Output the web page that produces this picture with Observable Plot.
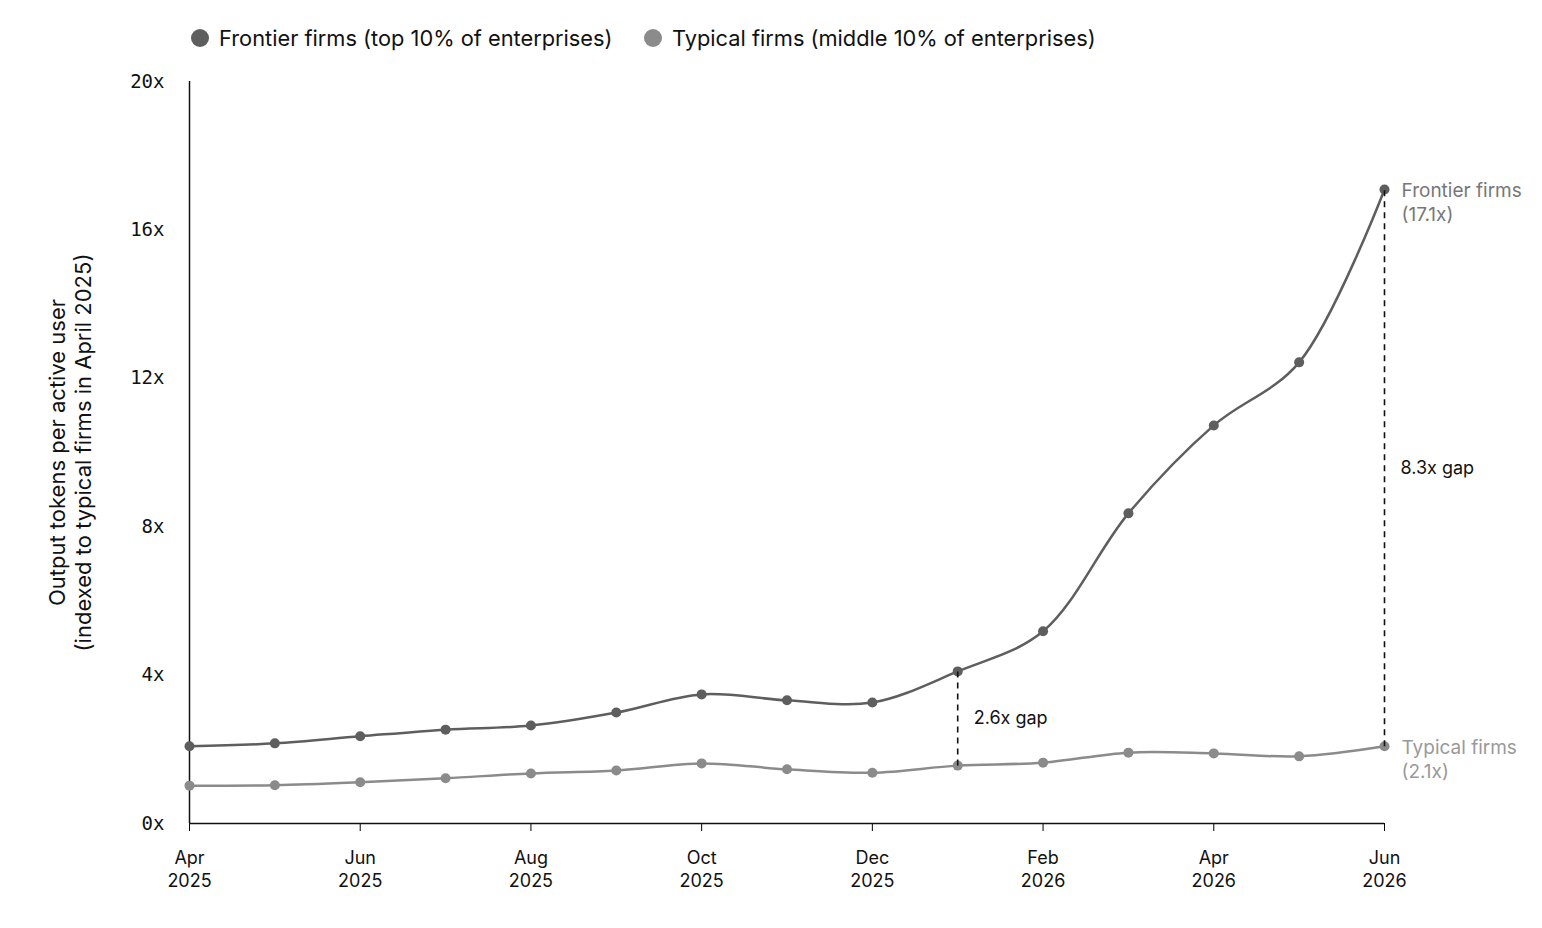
<!DOCTYPE html>
<html>
<head>
<meta charset="utf-8">
<script src="https://cdn.jsdelivr.net/npm/d3@7"></script>
<script src="https://cdn.jsdelivr.net/npm/@observablehq/plot@0.6"></script>
<style>
  html, body { margin: 0; padding: 0; background: #fff; }
  body { width: 1542px; height: 928px; overflow: hidden; font-family: Inter, "Open Sans", sans-serif; }
  #legend { height: 60px; position: relative; }
  .item { position: absolute; top: 25px; display: flex; align-items: center; font-size: 21.8px; color: #111; white-space: nowrap; }
  .sw { width: 18px; height: 18px; border-radius: 50%; margin-right: 10px; }
  svg { display: block; }
</style>
</head>
<body>
<div id="legend"></div>
<div id="chart"></div>
<script>
// ---- data ----
const months = ["2025-04","2025-05","2025-06","2025-07","2025-08","2025-09","2025-10","2025-11","2025-12","2026-01","2026-02","2026-03","2026-04","2026-05","2026-06"];
const frontier = [2.08, 2.16, 2.35, 2.53, 2.64, 2.99, 3.48, 3.32, 3.26, 4.10, 5.18, 8.36, 10.73, 12.43, 17.09];
const typical  = [1.02, 1.03, 1.11, 1.22, 1.35, 1.43, 1.62, 1.46, 1.37, 1.56, 1.64, 1.91, 1.89, 1.81, 2.08];
const seriesNames = ["Frontier firms", "Typical firms"];
const legendLabels = ["Frontier firms (top 10% of enterprises)", "Typical firms (middle 10% of enterprises)"];
const seriesColors = ["#5e5e5e", "#8b8b8b"];
const endLabels = ["Frontier firms\n(17.1x)", "Typical firms\n(2.1x)"];
const endLabelColors = ["#777777", "#999999"];
const gapMonths = ["2026-01", "2026-06"];
const gapLabels = ["2.6x gap", "8.3x gap"];
const xTickMonths = ["2025-04","2025-06","2025-08","2025-10","2025-12","2026-02","2026-04","2026-06"];
const yTicks = [0, 4, 8, 12, 16, 20];
const yLabel = "Output tokens per active user\n(indexed to typical firms in April 2025)";

// ---- build ----
const parse = d3.utcParse("%Y-%m");
const fmt = d3.utcFormat("%b\n%Y");
const rows = [];
months.forEach((m, i) => {
  rows.push({month: m, series: seriesNames[0], value: frontier[i]});
  rows.push({month: m, series: seriesNames[1], value: typical[i]});
});
const gaps = gapMonths.map((m, k) => {
  const i = months.indexOf(m);
  return {month: m, lo: typical[i], hi: frontier[i], mid: (typical[i] + frontier[i]) / 2, label: gapLabels[k]};
});
const last = months.length - 1;
const ends = [
  {month: months[last], value: frontier[last], label: endLabels[0], color: endLabelColors[0]},
  {month: months[last], value: typical[last], label: endLabels[1], color: endLabelColors[1]}
];

// legend
const legend = document.getElementById("legend");
const legendX = [191, 644];
legendLabels.forEach((t, i) => {
  const d = document.createElement("div");
  d.className = "item";
  d.style.left = legendX[i] + "px";
  d.innerHTML = `<span class="sw" style="background:${seriesColors[i]}"></span><span>${t}</span>`;
  legend.appendChild(d);
});

const sans = "Inter, 'Open Sans', sans-serif";
const chart = Plot.plot({
  width: 1542,
  height: 868,
  marginTop: 21,
  marginLeft: 189,
  marginRight: 158,
  marginBottom: 105,
  style: {fontFamily: sans, background: "white", overflow: "visible"},
  x: {type: "point", domain: months, padding: 0, round: false},
  y: {domain: [0, 20]},
  color: {domain: seriesNames, range: seriesColors},
  marks: [
    Plot.axisY({ticks: yTicks, tickFormat: d => d + "x", tickSize: 7, tickPadding: 18,
      fontFamily: "DejaVu Sans Mono", fontSize: 19, fill: "#111", stroke: null, label: null}),
    Plot.axisX({ticks: xTickMonths, tickFormat: m => fmt(parse(m)), tickSize: 8, tickPadding: 15,
      fontSize: 18, lineHeight: 1.33, fill: "#111", label: null}),
    Plot.ruleY([0], {stroke: "#111", strokeWidth: 1.5}),
    Plot.ruleX([months[0]], {stroke: "#111", strokeWidth: 1.5}),
    Plot.text([yLabel], {frameAnchor: "left", dx: -120, rotate: -90, textAnchor: "middle", lineAnchor: "middle",
      fontSize: 22, lineHeight: 1.2, fill: "#111"}),
    Plot.line(rows, {x: "month", y: "value", z: "series", stroke: "series", strokeWidth: 2.5, curve: "catmull-rom"}),
    Plot.dot(rows, {x: "month", y: "value", fill: "series", r: 5}),
    Plot.link(gaps, {x1: "month", x2: "month", y1: "lo", y2: "hi", stroke: "#111", strokeWidth: 1.6, strokeDasharray: "6,5"}),
    Plot.text(gaps, {x: "month", y: "mid", text: "label", dx: 16, textAnchor: "start", fontSize: 18, fill: "#111"}),
    Plot.text(ends, {x: "month", y: "value", text: "label", fill: "color", dx: 17, dy: 12, textAnchor: "start",
      lineAnchor: "middle", fontSize: 19, lineHeight: 1.26})
  ]
});
document.getElementById("chart").appendChild(chart);
</script>
</body>
</html>
